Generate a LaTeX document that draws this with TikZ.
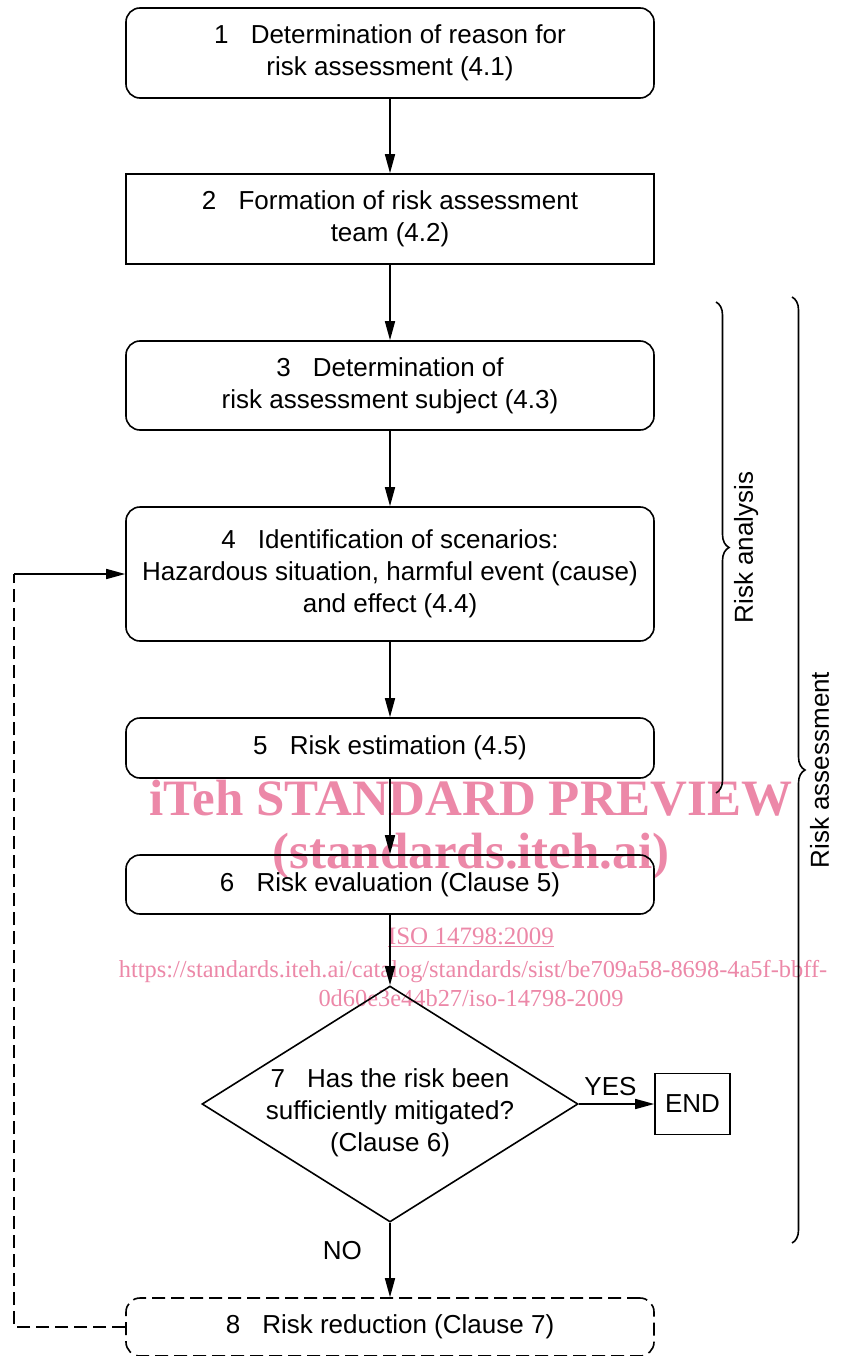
\documentclass[tikz,border=0pt]{standalone}
\usepackage{fontspec}
\setmainfont{Liberation Sans}
\newfontfamily\wmfont{Liberation Serif}
\usetikzlibrary{shapes.geometric,arrows.meta,decorations.pathreplacing}
\definecolor{wmpink}{RGB}{236,136,168}
\newcommand{\stepno}[1]{#1\hspace{0.85em}}

\begin{document}
\begin{tikzpicture}[x=1pt,y=-1pt,line width=1.6pt,
  every node/.style={font=\fontsize{26}{32}\selectfont},
  stepbox/.style={draw,rounded corners=14pt,minimum width=528pt,align=center,inner sep=0pt},
  plainbox/.style={draw,minimum width=528pt,align=center,inner sep=0pt},
  arr/.style={-{Triangle[length=19pt,width=10pt]}},
  loopline/.style={dash pattern=on 13pt off 6pt},
  bracket/.style={decorate,decoration={brace,amplitude=13pt}},
  wmark/.style={text=wmpink,anchor=base}]
\useasboundingbox (0,0) rectangle (846,1356);

\node[wmark,font=\wmfont\bfseries\fontsize{51}{51}\selectfont] (wm1) at (471,815) {iTeh STANDARD PREVIEW};
\node[wmark,font=\wmfont\bfseries\fontsize{51}{51}\selectfont] (wm2) at (471,868) {(standards.iteh.ai)};
\node[wmark,font=\wmfont\fontsize{25}{26}\selectfont] (wm3) at (471,944) {\underline{ISO 14798:2009}};
\node[wmark,font=\wmfont\fontsize{24.4}{26}\selectfont] (wm4) at (473,977) {https://standards.iteh.ai/catalog/standards/sist/be709a58-8698-4a5f-bbff-};
\node[wmark,font=\wmfont\fontsize{24.4}{26}\selectfont] (wm5) at (471,1006) {0d60e3e44b27/iso-14798-2009};

\node[stepbox,minimum height=90pt] (b1) at (390,53) {\stepno{1}Determination of reason for\\risk assessment (4.1)};
\node[plainbox,minimum height=90pt] (b2) at (390,219) {\stepno{2}Formation of risk assessment\\team (4.2)};
\node[stepbox,minimum height=89pt] (b3) at (390,385.5) {\stepno{3}Determination of\\risk assessment subject (4.3)};
\node[stepbox,minimum height=134pt] (b4) at (390,574) {\stepno{4}Identification of scenarios:\\Hazardous situation, harmful event (cause)\\and effect (4.4)};
\node[stepbox,minimum height=60pt] (b5) at (390,748) {\stepno{5}Risk estimation (4.5)};
\node[stepbox,minimum height=59pt] (b6) at (390,884.5) {\stepno{6}Risk evaluation (Clause 5)};
\node[draw,diamond,aspect=1.6,minimum width=376pt,minimum height=236pt,inner sep=0pt] (d7) at (390,1104) {};
\node[align=center] (d7text) at (390,1113) {\stepno{7}Has the risk been\\sufficiently mitigated?\\(Clause 6)};
\node[draw,minimum width=75pt,minimum height=61pt,inner sep=0pt] (end) at (692.5,1104) {END};
\node[stepbox,loopline,minimum height=58pt] (b8) at (390,1327) {\stepno{8}Risk reduction (Clause 7)};

\draw[arr] (b1) -- (b2);
\draw[arr] (b2) -- (b3);
\draw[arr] (b3) -- (b4);
\draw[arr] (b4) -- (b5);
\draw[arr] (b5) -- (b6);
\draw[arr] (b6) -- (d7);
\draw[arr] (d7) -- node[above=4pt,pos=0.42] (yes) {YES} (end);
\draw[arr] (d7) -- node[left=24pt,pos=0.37] (no) {NO} (b8);

\coordinate (loopbot) at (14,1327);
\coordinate (looptop) at (b4.west -| loopbot);
\draw[loopline] (b8.west) -- (loopbot) -- (looptop);
\draw[arr] (looptop) -- (b4.west);

\draw[bracket] (716,302) -- node[right=14pt,rotate=90,anchor=north] (ra) {Risk analysis} (716,793);
\draw[bracket] (792,297) -- node[right=14pt,rotate=90,anchor=north] (rs) {Risk assessment} (792,1243);
\end{tikzpicture}
\end{document}
